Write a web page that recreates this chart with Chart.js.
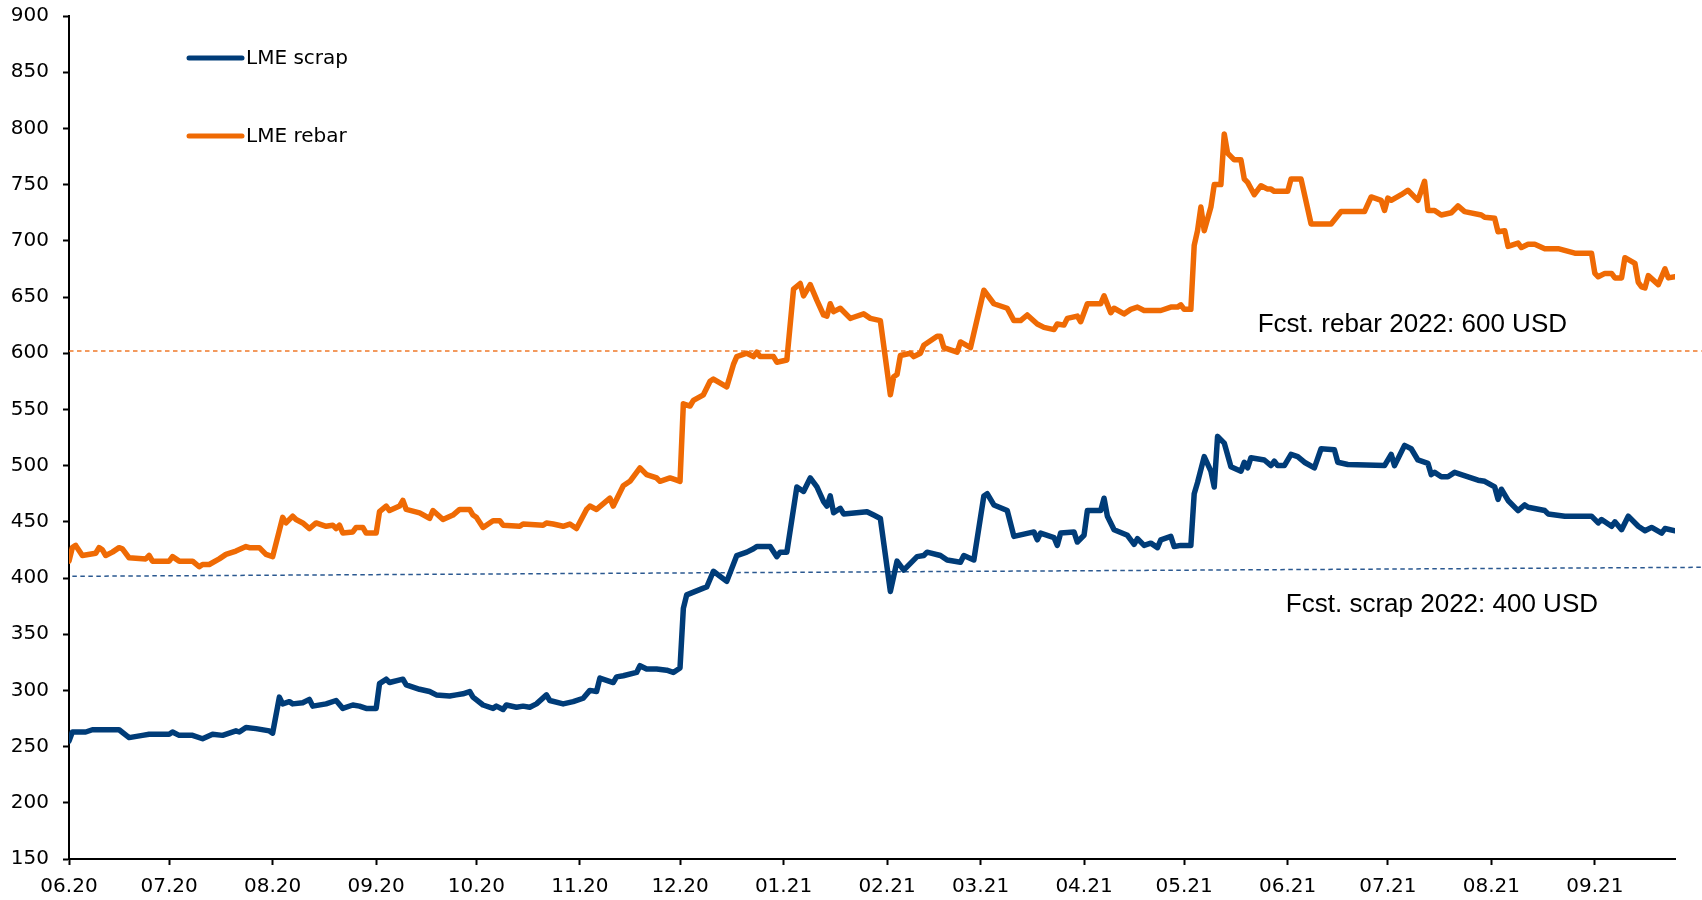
<!DOCTYPE html>
<html>
<head>
<meta charset="utf-8">
<title>LME scrap and rebar</title>
<script src="https://cdn.jsdelivr.net/npm/chart.js@4/dist/chart.umd.min.js"></script>
<style>
  html, body { margin: 0; padding: 0; background: #fff; }
  #wrap { width: 1702px; height: 900px; position: relative; }
</style>
</head>
<body>
<div id="wrap"><canvas id="chart"></canvas></div>
<script>
// axis
const tickDates = ['2020-06-01', '2020-07-01', '2020-08-01', '2020-09-01', '2020-10-01', '2020-11-01',
  '2020-12-01', '2021-01-01', '2021-02-01', '2021-03-01', '2021-04-01', '2021-05-01',
  '2021-06-01', '2021-07-01', '2021-08-01', '2021-09-01'];
const tickLabels = ['06.20', '07.20', '08.20', '09.20', '10.20', '11.20', '12.20', '01.21',
  '02.21', '03.21', '04.21', '05.21', '06.21', '07.21', '08.21', '09.21'];
const axisStart = '2020-06-01';
const axisEnd = '2021-09-25';

// LME scrap (USD/t)
const scrapDates = [
  '2020-06-01','2020-06-02','2020-06-06','2020-06-08','2020-06-16','2020-06-19','2020-06-23','2020-06-25','2020-06-27',
  '2020-07-01','2020-07-02','2020-07-04','2020-07-08','2020-07-11','2020-07-14','2020-07-17','2020-07-21','2020-07-22','2020-07-24','2020-07-27','2020-07-31',
  '2020-08-01','2020-08-03','2020-08-04','2020-08-06','2020-08-07','2020-08-10','2020-08-12','2020-08-13','2020-08-17','2020-08-20','2020-08-22','2020-08-25','2020-08-27','2020-08-29',
  '2020-09-01','2020-09-02','2020-09-04','2020-09-05','2020-09-09','2020-09-10','2020-09-14','2020-09-17','2020-09-19','2020-09-23','2020-09-25','2020-09-27','2020-09-29','2020-09-30',
  '2020-10-03','2020-10-06','2020-10-07','2020-10-09','2020-10-10','2020-10-13','2020-10-15','2020-10-17','2020-10-19','2020-10-22','2020-10-23','2020-10-27','2020-10-30',
  '2020-11-02','2020-11-04','2020-11-06','2020-11-07','2020-11-11','2020-11-12','2020-11-14','2020-11-18','2020-11-19','2020-11-21','2020-11-24','2020-11-27','2020-11-29',
  '2020-12-01','2020-12-02','2020-12-03','2020-12-08','2020-12-09','2020-12-11','2020-12-15','2020-12-18','2020-12-21','2020-12-23','2020-12-24','2020-12-28','2020-12-30','2020-12-31',
  '2021-01-02','2021-01-05','2021-01-07','2021-01-09','2021-01-11','2021-01-13','2021-01-14','2021-01-15','2021-01-16','2021-01-18','2021-01-19','2021-01-26','2021-01-28','2021-01-30',
  '2021-02-02','2021-02-04','2021-02-06','2021-02-10','2021-02-12','2021-02-13','2021-02-17','2021-02-19','2021-02-23','2021-02-24','2021-02-27',
  '2021-03-02','2021-03-03','2021-03-05','2021-03-09','2021-03-11','2021-03-17','2021-03-18','2021-03-19','2021-03-23','2021-03-24','2021-03-25','2021-03-29','2021-03-30',
  '2021-04-01','2021-04-02','2021-04-06','2021-04-07','2021-04-08','2021-04-10','2021-04-14','2021-04-16','2021-04-17','2021-04-19','2021-04-21','2021-04-23','2021-04-24','2021-04-27','2021-04-28','2021-04-30',
  '2021-05-03','2021-05-04','2021-05-05','2021-05-07','2021-05-09','2021-05-10','2021-05-11','2021-05-13','2021-05-15','2021-05-18','2021-05-19','2021-05-20','2021-05-21','2021-05-25','2021-05-27','2021-05-28','2021-05-29','2021-05-31',
  '2021-06-02','2021-06-04','2021-06-06','2021-06-09','2021-06-11','2021-06-15','2021-06-16','2021-06-19','2021-06-30',
  '2021-07-02','2021-07-03','2021-07-06','2021-07-08','2021-07-10','2021-07-13','2021-07-14','2021-07-15','2021-07-17','2021-07-19','2021-07-21','2021-07-23','2021-07-28','2021-07-30',
  '2021-08-02','2021-08-03','2021-08-04','2021-08-06','2021-08-09','2021-08-11','2021-08-12','2021-08-17','2021-08-18','2021-08-23','2021-08-31',
  '2021-09-02','2021-09-03','2021-09-06','2021-09-07','2021-09-09','2021-09-11','2021-09-14','2021-09-16','2021-09-18','2021-09-21','2021-09-22','2021-09-25'
];
const scrapValues = [
  255, 263, 263, 265, 265, 258, 260, 261, 261,
  261, 263, 260, 260, 257, 261, 260, 264, 263, 267, 266, 264,
  262, 294, 288, 290, 288, 289, 292, 286, 288, 291, 284, 287, 286, 284,
  284, 306, 310, 307, 310, 305, 301, 299, 296, 295, 296, 297, 299, 294,
  287, 284, 286, 283, 287, 285, 286, 285, 288, 296, 291, 288, 290,
  293, 300, 299, 311, 307, 312, 313, 316, 322, 319, 319, 318, 316,
  320, 373, 385, 391, 392, 406, 397, 420, 423, 426, 428, 428, 419, 423,
  423, 481, 477, 489, 481, 468, 464, 473, 458, 462, 457, 459, 456, 453,
  388, 415, 407, 419, 420, 423, 420, 416, 414, 420, 416,
  473, 475, 465, 460, 437, 441, 434, 440, 436, 429, 440, 441, 432,
  438, 460, 460, 471, 455, 443, 438, 430, 435, 429, 431, 427, 434, 437, 428, 429,
  429, 475, 485, 508, 495, 481, 526, 520, 499, 495, 503, 498, 507, 505, 500, 504, 500, 500,
  510, 508, 503, 498, 515, 514, 503, 501, 500,
  510, 500, 518, 515, 505, 502, 492, 494, 490, 490, 494, 492, 487, 486,
  481, 470, 479, 469, 460, 465, 463, 460, 457, 455, 455,
  449, 452, 446, 450, 443, 455, 446, 442, 445, 440, 444, 442
];

// LME rebar (USD/t)
const rebarDates = [
  '2020-06-01','2020-06-02','2020-06-03','2020-06-05','2020-06-09','2020-06-10','2020-06-11','2020-06-12','2020-06-14','2020-06-16','2020-06-17','2020-06-19','2020-06-24','2020-06-25','2020-06-26',
  '2020-07-01','2020-07-02','2020-07-04','2020-07-08','2020-07-10','2020-07-11','2020-07-13','2020-07-16','2020-07-18','2020-07-21','2020-07-24','2020-07-25','2020-07-28','2020-07-30',
  '2020-08-01','2020-08-04','2020-08-05','2020-08-07','2020-08-08','2020-08-10','2020-08-12','2020-08-14','2020-08-17','2020-08-19','2020-08-20','2020-08-21','2020-08-22','2020-08-25','2020-08-26','2020-08-28','2020-08-29',
  '2020-09-01','2020-09-02','2020-09-04','2020-09-05','2020-09-08','2020-09-09','2020-09-10','2020-09-14','2020-09-17','2020-09-18','2020-09-21','2020-09-24','2020-09-26','2020-09-29','2020-09-30',
  '2020-10-01','2020-10-03','2020-10-06','2020-10-08','2020-10-09','2020-10-14','2020-10-15','2020-10-21','2020-10-22','2020-10-24','2020-10-27','2020-10-29','2020-10-31',
  '2020-11-03','2020-11-04','2020-11-06','2020-11-10','2020-11-11','2020-11-14','2020-11-16','2020-11-19','2020-11-21','2020-11-24','2020-11-25','2020-11-28','2020-11-30',
  '2020-12-01','2020-12-02','2020-12-04','2020-12-05','2020-12-08','2020-12-10','2020-12-11','2020-12-15','2020-12-17','2020-12-18','2020-12-21','2020-12-23','2020-12-24','2020-12-25','2020-12-29','2020-12-30',
  '2021-01-02','2021-01-04','2021-01-06','2021-01-07','2021-01-09','2021-01-11','2021-01-13','2021-01-14','2021-01-15','2021-01-16','2021-01-18','2021-01-21','2021-01-22','2021-01-25','2021-01-27','2021-01-30',
  '2021-02-02','2021-02-03','2021-02-04','2021-02-05','2021-02-08','2021-02-09','2021-02-11','2021-02-12','2021-02-16','2021-02-17','2021-02-18','2021-02-22','2021-02-23','2021-02-26',
  '2021-03-02','2021-03-03','2021-03-05','2021-03-09','2021-03-11','2021-03-13','2021-03-15','2021-03-18','2021-03-20','2021-03-23','2021-03-24','2021-03-26','2021-03-27','2021-03-30','2021-03-31',
  '2021-04-02','2021-04-06','2021-04-07','2021-04-09','2021-04-10','2021-04-13','2021-04-15','2021-04-17','2021-04-19','2021-04-21','2021-04-24','2021-04-27','2021-04-29','2021-04-30',
  '2021-05-01','2021-05-03','2021-05-04','2021-05-05','2021-05-06','2021-05-07','2021-05-09','2021-05-10','2021-05-12','2021-05-13','2021-05-14','2021-05-16','2021-05-18','2021-05-19','2021-05-20','2021-05-22','2021-05-24','2021-05-26','2021-05-27','2021-05-28',
  '2021-06-01','2021-06-02','2021-06-05','2021-06-08','2021-06-14','2021-06-17','2021-06-24','2021-06-26','2021-06-29','2021-06-30',
  '2021-07-01','2021-07-02','2021-07-05','2021-07-07','2021-07-10','2021-07-12','2021-07-13','2021-07-15','2021-07-17','2021-07-20','2021-07-22','2021-07-24','2021-07-29','2021-07-30',
  '2021-08-02','2021-08-03','2021-08-05','2021-08-06','2021-08-09','2021-08-10','2021-08-12','2021-08-14','2021-08-17','2021-08-21','2021-08-26','2021-08-31',
  '2021-09-01','2021-09-02','2021-09-04','2021-09-06','2021-09-07','2021-09-09','2021-09-10','2021-09-13','2021-09-14','2021-09-15','2021-09-16','2021-09-17','2021-09-20','2021-09-22','2021-09-23','2021-09-25'
];
const rebarValues = [
  415, 427, 429, 420, 422, 427, 425, 420, 423, 427, 426, 418, 417, 420, 415,
  415, 419, 415, 415, 410, 412, 412, 417, 421, 424, 428, 427, 427, 421,
  419, 454, 449, 455, 452, 449, 444, 449, 446, 447, 444, 447, 440, 441, 445, 445, 440,
  440, 459, 464, 460, 464, 469, 461, 458, 453, 460, 452, 456, 461, 461, 456,
  454, 445, 451, 451, 447, 446, 448, 447, 449, 448, 446, 448, 444,
  461, 464, 461, 471, 464, 482, 486, 498, 492, 489, 486, 489, 487,
  486, 555, 553, 558, 563, 575, 577, 570, 590, 597, 600, 597, 601, 597, 597, 592,
  594, 657, 662, 651, 661, 647, 634, 633, 644, 637, 640, 631, 632, 635, 631, 629,
  563, 579, 581, 598, 600, 597, 600, 607, 615, 615, 605, 601, 610, 605,
  656, 652, 644, 640, 629, 629, 634, 626, 623, 621, 626, 625, 631, 633, 628,
  644, 644, 651, 636, 640, 635, 639, 641, 638, 638, 638, 641, 641, 643,
  639, 639, 696, 709, 730, 709, 730, 750, 750, 795, 778, 772, 772, 755, 752, 741, 749, 746, 746, 744,
  744, 755, 755, 715, 715, 726, 726, 739, 736, 727,
  738, 736, 741, 745, 736, 753, 727, 727, 723, 725, 731, 726, 723, 721,
  720, 708, 709, 695, 698, 694, 697, 697, 693, 693, 689, 689,
  671, 668, 671, 671, 667, 667, 685, 680, 663, 659, 658, 669, 661, 675, 667, 668
];

// forecast lines as drawn
const fcstRebarDates = ['2020-06-01', '2021-10-03'];
const fcstRebarValues = [602, 602];
const fcstScrapDates = ['2020-06-02', '2021-10-03'];
const fcstScrapValues = [401.5, 409.5];

const seriesNames = ['LME scrap', 'LME rebar'];
const fcstTexts = ['Fcst. rebar 2022: 600 USD', 'Fcst. scrap 2022: 400 USD'];

const BLUE = '#003C78';
const ORANGE = '#EF6A04';

function toDay(s) {
  const [yy, mm, dd] = s.split('-').map(Number);
  const [y0, m0, d0] = axisStart.split('-').map(Number);
  return (Date.UTC(yy, mm - 1, dd) - Date.UTC(y0, m0 - 1, d0)) / 86400000;
}
function pairs(dates, values) {
  return dates.map((d, i) => ({ x: toDay(d), y: values[i] }));
}

Chart.defaults.color = '#000';

// legend + forecast labels drawn on top
const extras = {
  id: 'extras',
  afterDraw(chart) {
    const ctx = chart.ctx;
    const area = chart.chartArea;
    const yS = chart.scales.y;
    ctx.save();

    const colors = [BLUE, ORANGE];
    seriesNames.forEach((name, i) => {
      const ly = 58 + i * 78;
      ctx.strokeStyle = colors[i];
      ctx.lineWidth = 5;
      ctx.lineCap = 'round';
      ctx.beginPath();
      ctx.moveTo(area.left + 120, ly);
      ctx.lineTo(area.left + 173, ly);
      ctx.stroke();
      ctx.fillStyle = '#000';
      ctx.font = '20px "DejaVu Sans"';
      ctx.textAlign = 'left';
      ctx.textBaseline = 'middle';
      ctx.fillText(name, area.left + 177, ly + 1);
    });

    ctx.font = '26px "Liberation Sans", Arial, sans-serif';
    ctx.textAlign = 'right';
    ctx.textBaseline = 'alphabetic';
    ctx.fillStyle = '#000';
    ctx.fillText(fcstTexts[0], area.right - 108, yS.getPixelForValue(fcstRebarValues[1]) - 19);
    ctx.fillText(fcstTexts[1], area.right - 77, yS.getPixelForValue(fcstScrapValues[1]) + 45);
    ctx.restore();
  }
};

new Chart(document.getElementById('chart'), {
  type: 'line',
  data: {
    datasets: [
      {
        label: seriesNames[0],
        data: pairs(scrapDates, scrapValues),
        borderColor: BLUE,
        borderWidth: 5.5,
        pointRadius: 0,
        tension: 0,
        borderJoinStyle: 'round',
        borderCapStyle: 'round'
      },
      {
        label: seriesNames[1],
        data: pairs(rebarDates, rebarValues),
        borderColor: ORANGE,
        borderWidth: 5.5,
        pointRadius: 0,
        tension: 0,
        borderJoinStyle: 'round',
        borderCapStyle: 'round'
      },
      {
        label: 'fcst rebar',
        data: pairs(fcstRebarDates, fcstRebarValues),
        borderColor: '#F07A2A',
        borderWidth: 1.5,
        borderDash: [4.5, 3.5],
        pointRadius: 0,
        clip: false
      },
      {
        label: 'fcst scrap',
        data: pairs(fcstScrapDates, fcstScrapValues),
        borderColor: '#2A5890',
        borderWidth: 1.5,
        borderDash: [4.5, 3.5],
        pointRadius: 0,
        clip: false
      }
    ]
  },
  options: {
    responsive: true,
    maintainAspectRatio: false,
    animation: false,
    events: [],
    layout: { padding: { left: 0, right: 27, top: 16, bottom: 0 } },
    plugins: {
      legend: { display: false },
      tooltip: { enabled: false }
    },
    scales: {
      x: {
        type: 'linear',
        min: toDay(axisStart),
        max: toDay(axisEnd),
        afterBuildTicks: (s) => { s.ticks = tickDates.map(d => ({ value: toDay(d) })); },
        afterFit: (s) => { s.height = 41; },
        ticks: {
          autoSkip: false,
          maxRotation: 0,
          padding: 10,
          font: { family: 'DejaVu Sans', size: 20 },
          callback: (v, i) => tickLabels[i]
        },
        grid: { display: true, drawOnChartArea: false, drawTicks: true, tickLength: 6, tickColor: '#000', tickWidth: 2 },
        border: { display: true, color: '#000', width: 2 }
      },
      y: {
        min: 150,
        max: 900,
        afterFit: (s) => {
          s.width = 69;
          s.paddingTop = 12; // label overflow only, not the tick padding
          s.paddingBottom = 0;
        },
        ticks: {
          stepSize: 50,
          padding: 14,
          font: { family: 'DejaVu Sans', size: 20 }
        },
        grid: { display: true, drawOnChartArea: false, drawTicks: true, tickLength: 6, tickColor: '#000', tickWidth: 2 },
        border: { display: true, color: '#000', width: 2 }
      }
    }
  },
  plugins: [extras]
});
</script>
</body>
</html>
